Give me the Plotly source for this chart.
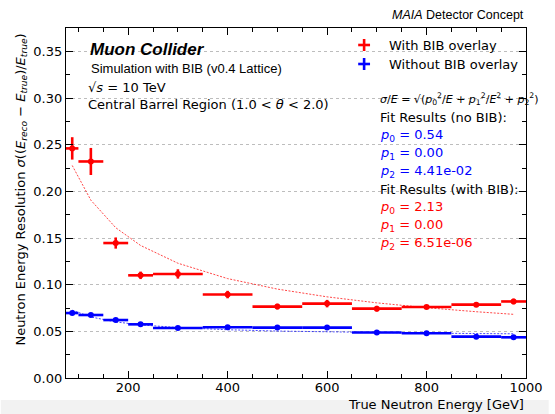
import numpy as np
import plotly.graph_objects as go

# Energy bins [GeV]
bin_lo = [75, 100, 150, 200, 250, 350, 450, 550, 650, 750, 850, 950]
bin_hi = [100, 150, 200, 250, 350, 450, 550, 650, 750, 850, 950, 1000]

# Resolution with BIB overlay
res_bib = [0.246, 0.232, 0.1446, 0.110, 0.1115, 0.0894, 0.0765, 0.0797, 0.0743, 0.076, 0.0786, 0.082]
err_bib = [0.012, 0.0145, 0.006, 0.004, 0.005, 0.004, 0.003, 0.004, 0.003, 0.002, 0.002, 0.003]

# Resolution without BIB overlay
res_nobib = [0.0696, 0.0675, 0.0621, 0.0575, 0.0535, 0.0543, 0.054, 0.054, 0.0488, 0.048, 0.0443, 0.0436]
err_nobib = [0.002, 0.0015, 0.0015, 0.0015, 0.0012, 0.0015, 0.0012, 0.0015, 0.0012, 0.0012, 0.0012, 0.0012]

# Fit parameters sigma/E = sqrt(p0^2/E + p1^2/E^2 + p2^2)
fit_nobib = [0.54, 0.00, 4.41e-02]
fit_bib = [2.13, 0.00, 6.51e-06]

RED = "#ff0000"
BLUE = "#0000ff"
FONT = "DejaVu Sans"
SANS = "Liberation Sans"

lo = np.array(bin_lo, float)
hi = np.array(bin_hi, float)
E = 0.5 * (lo + hi)
half = 0.5 * (hi - lo)


def resolution(e, p):
    return np.sqrt(p[0] ** 2 / e + p[1] ** 2 / e ** 2 + p[2] ** 2)


fig = go.Figure()

for vals, errs, pars, col in [(res_bib, err_bib, fit_bib, RED),
                              (res_nobib, err_nobib, fit_nobib, BLUE)]:
    fig.add_trace(go.Scatter(
        x=E, y=resolution(E, pars), mode="lines",
        line=dict(color=col, width=0.9, dash="2px,1.5px"),
        opacity=0.8, showlegend=False, hoverinfo="skip"))
    fig.add_trace(go.Scatter(
        x=E, y=vals, mode="markers",
        marker=dict(color=col, size=6),
        error_x=dict(type="data", array=half, color=col, thickness=2.6, width=0),
        error_y=dict(type="data", array=errs, color=col, thickness=2.6, width=0),
        showlegend=False))

# plot area in pixels: x 66..532, y 28..378
L, R, T, B = 66, 532, 28, 378


def px(xp):
    return (xp - L) / (R - L)


def py(yp):
    return (B - yp) / (B - T)


ann = []


def text(xp, yp, s, size=13, color="black", family=FONT, xanchor="left"):
    ann.append(dict(x=px(xp), y=py(yp), xref="paper", yref="paper", text=s,
                    showarrow=False, xanchor=xanchor, yanchor="middle",
                    font=dict(size=size, color=color, family=family)))


text(532, 15, "<i>MAIA</i> Detector Concept", size=12.5, family=SANS, xanchor="right")
text(88, 50, "<b><i>Muon Collider</i></b>", size=17, family=SANS)
text(89, 69, "Simulation with BIB (v0.4 Lattice)", size=13, family=SANS)
text(86, 87, "√<i>s</i> = 10 TeV", size=13)
text(86, 104, "Central Barrel Region (1.0 &lt; <i>θ</i> &lt; 2.0)", size=13)

text(391, 45, "With BIB overlay", size=13)
text(391, 64, "Without BIB overlay", size=13)

text(382, 99, "<i>σ</i>/<i>E</i> = √(<i>p</i><sub>0</sub><sup>2</sup>/<i>E</i> + "
              "<i>p</i><sub>1</sub><sup>2</sup>/<i>E</i><sup>2</sup> + <i>p</i><sub>2</sub><sup>2</sup>)",
     size=11)
text(382, 117, "Fit Results (no BIB):")
text(382, 135, f"<i>p</i><sub>0</sub> = {fit_nobib[0]:.2f}", color=BLUE)
text(382, 153, f"<i>p</i><sub>1</sub> = {fit_nobib[1]:.2f}", color=BLUE)
text(382, 171, f"<i>p</i><sub>2</sub> = {fit_nobib[2]:.2e}", color=BLUE)
text(382, 189, "Fit Results (with BIB):")
text(382, 207, f"<i>p</i><sub>0</sub> = {fit_bib[0]:.2f}", color=RED)
text(382, 225, f"<i>p</i><sub>1</sub> = {fit_bib[1]:.2f}", color=RED)
text(382, 243, f"<i>p</i><sub>2</sub> = {fit_bib[2]:.2e}", color=RED)

# axis titles
ann.append(dict(x=1, y=py(404), xref="paper", yref="paper",
                text="True Neutron Energy [GeV]", showarrow=False,
                xanchor="right", yanchor="middle",
                font=dict(size=13, family=FONT, color="black")))
ann.append(dict(x=px(20), y=py(32), xref="paper", yref="paper",
                text="Neutron Energy Resolution <i>σ</i>((<i>E</i><sub><i>reco</i></sub> − "
                     "<i>E</i><sub><i>true</i></sub>)/<i>E</i><sub><i>true</i></sub>)",
                showarrow=False, textangle=-90, xanchor="center", yanchor="top",
                font=dict(size=13, family=FONT, color="black")))

shapes = []
# light strip along the bottom edge of the page
shapes.append(dict(type="rect", xref="paper", yref="paper", layer="below",
                   x0=px(0), x1=px(555), y0=py(414), y1=py(400),
                   fillcolor="#f2f2f2", line=dict(width=0)))

# legend crosses
for yp, col in [(45, RED), (64, BLUE)]:
    shapes.append(dict(type="line", xref="paper", yref="paper",
                       x0=px(362), x1=px(374), y0=py(yp), y1=py(yp),
                       line=dict(color=col, width=2.6)))
    shapes.append(dict(type="line", xref="paper", yref="paper",
                       x0=px(368), x1=px(368), y0=py(yp - 6), y1=py(yp + 6),
                       line=dict(color=col, width=2.6)))

axis_common = dict(
    showline=True, linecolor="black", linewidth=1.3, mirror="allticks",
    ticks="inside", ticklen=7, tickwidth=1.3, tickcolor="black",
    tickfont=dict(size=13, family=FONT, color="black"),
    zeroline=False,
)

fig.update_layout(
    width=555, height=414,
    margin=dict(l=L, r=555 - R, t=T, b=414 - B),
    paper_bgcolor="white", plot_bgcolor="white",
    showlegend=False,
    annotations=ann, shapes=shapes,
    xaxis=dict(range=[75, 1000], tickvals=[200, 400, 600, 800, 1000],
               showgrid=False, ticklabelstandoff=-3,
               minor=dict(tickvals=list(range(100, 1000, 50)), ticks="inside",
                          ticklen=4, tickwidth=1, tickcolor="black", showgrid=False),
               **axis_common),
    yaxis=dict(range=[0, 0.375], tickvals=[0, 0.05, 0.10, 0.15, 0.20, 0.25, 0.30, 0.35],
               tickformat=".2f",
               showgrid=True, gridcolor="#bdbdbd", griddash="dot", gridwidth=1,
               minor=dict(dtick=0.025, ticks="inside", ticklen=4, tickwidth=1,
                          tickcolor="black", showgrid=False),
               **axis_common),
)

fig.write_html("out.html")
